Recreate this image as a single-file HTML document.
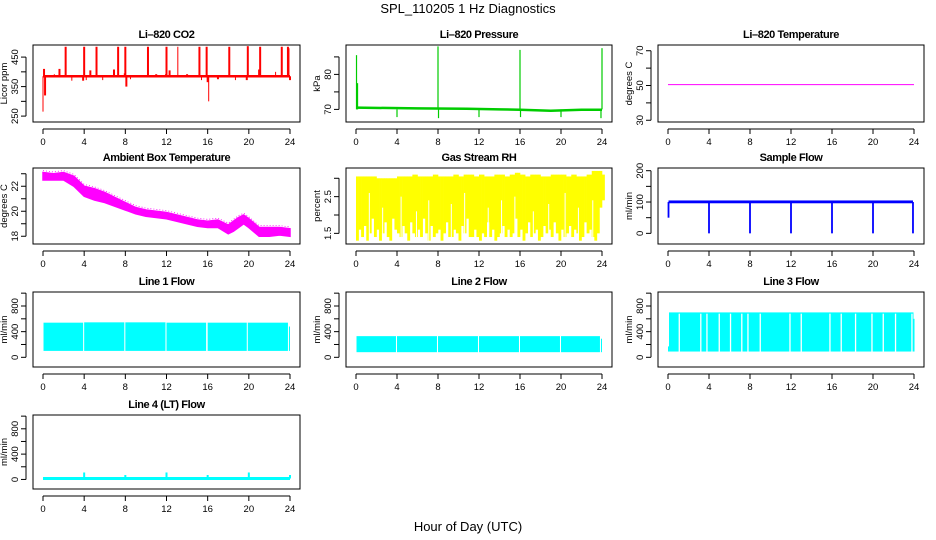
<!DOCTYPE html>
<html><head><meta charset="utf-8"><style>
html,body{margin:0;padding:0;background:#fff;}
svg{display:block;font-family:"Liberation Sans",sans-serif;}
.pt{font-size:11px;font-weight:bold;text-anchor:middle;letter-spacing:-0.4px}
.tk{font-size:9.5px;text-anchor:middle;}
.yl{font-size:9.5px;text-anchor:middle;}
</style></head><body>
<svg id="chart" width="936" height="540" viewBox="0 0 936 540" xmlns="http://www.w3.org/2000/svg">
<text x="468" y="13" font-size="13" text-anchor="middle">SPL_110205  1 Hz Diagnostics</text>
<text x="468" y="531" font-size="13" text-anchor="middle">Hour of Day (UTC)</text>
</svg>
<script>
const xTicks=[0,4,8,12,16,20,24];
// CO2
const co2Base=385;
const co2SpikeT=[0,0.1,0.2,1.1,1.6,2.2,2.8,3.9,4.0,4.2,4.6,5.2,5.8,6.9,7.3,7.9,8.0,8.1,8.5,10.2,11.0,11.9,12.0,12.3,13.1,14.0,15.2,15.4,15.9,16.0,16.1,17.0,18.1,18.7,19.8,19.9,20.2,21.0,21.1,22.6,23.2,23.8,23.9,24.0];
const co2SpikeV=[265,410,320,392,410,485,370,370,485,372,405,485,372,408,485,395,485,350,375,485,392,392,485,405,485,392,485,372,485,365,300,375,485,372,372,487,385,408,485,400,485,485,480,372];
// Pressure
const presT=[0,6,10.8,14,16,19,22,24];
const presV=[70.5,70.3,70.2,70.0,69.9,69.6,69.9,69.9];
const presSpikeT=[0.05,0.15,4.0,8.0,8.05,12.0,16.0,16.05,20.0,24.0,23.9];
const presSpikeV=[85.5,77.5,67.8,88,67.5,67.8,87,67.8,67.8,87.5,67.5];
// Li-820 temperature
const ltT=[0,24];
const ltV=[50.5,50.5];
// Ambient temp (hourly band)
const ambT=[0,1,2,3,4,5,6,7,8,9,10,11,12,13,14,15,16,17,18,18.5,19,19.5,20,21,22,23,24];
const ambHi=[23.1,23.0,23.1,22.8,22.0,21.8,21.5,21.1,20.7,20.3,20.1,20.0,19.9,19.7,19.5,19.3,19.2,19.3,18.9,19.2,19.5,19.7,19.4,18.7,18.7,18.7,18.6];
const ambLo=[22.5,22.5,22.5,22.0,21.2,20.9,20.7,20.4,20.1,19.8,19.6,19.5,19.4,19.2,19.0,18.8,18.7,18.7,18.2,18.4,18.7,19.0,18.7,18.0,18.0,18.1,18.0];
// RH: top per 0.5 h, lows per 0.25 h
const rhTop=[3.05,3.05,3.05,3.05,3.0,3.0,3.0,3.0,3.05,3.05,3.05,3.1,3.05,3.05,3.05,3.1,3.05,3.05,3.05,3.1,3.05,3.1,3.1,3.05,3.1,3.05,3.05,3.1,3.1,3.05,3.1,3.15,3.1,3.05,3.1,3.1,3.05,3.05,3.1,3.1,3.1,3.05,3.1,3.05,3.05,3.1,3.2,3.2,3.1];
const rhLow=[1.3,1.6,1.4,1.7,1.3,1.5,1.9,1.4,1.6,1.3,1.5,1.8,1.4,1.3,1.9,1.6,1.5,1.4,1.7,1.5,1.3,1.8,1.5,1.4,1.6,1.4,1.9,1.5,1.3,1.7,1.4,1.5,1.6,1.3,1.5,1.8,1.4,1.4,1.6,1.5,1.3,1.7,1.5,1.9,1.4,1.4,1.6,1.4,1.3,1.5,1.4,1.8,1.4,1.6,1.3,1.4,1.5,1.7,1.4,1.6,1.4,1.5,1.9,1.4,1.6,1.3,1.5,1.8,1.4,1.5,1.6,1.3,1.4,1.7,1.5,1.6,1.4,1.8,1.5,1.3,1.6,1.4,1.5,1.7,1.4,1.6,1.5,1.3,1.4,1.8,1.5,1.6,1.4,1.3,1.5,2.2,2.4];
const rhGapT=[1.3,2.6,4.4,5.9,7.1,9.3,10.6,12.9,14.2,15.5,17.3,18.8,20.4,21.7,23.1];
const rhGapV=[2.6,2.2,2.5,2.1,2.4,2.3,2.6,2.2,2.4,2.5,2.1,2.3,2.6,2.2,2.4];
// Sample flow
const sfT=[0.05,4,8,12,16,20,23.9];
const sfDip=[50,0,0,0,0,0,0];
const sfBase=100;
// Line flows: segments [start,end]
const l1Seg=[[0.05,3.9],[4.0,7.9],[8.0,11.9],[12.0,15.85],[16.0,19.8],[19.9,23.8],[23.9,24.0]];
const l1Top=[540,545,545,540,540,540,480];
const l1Bot=100;
const l2Seg=[[0.05,3.9],[4.0,7.9],[8.0,11.9],[12.0,15.9],[16.0,19.9],[20.0,23.8],[23.9,24.0]];
const l2Top=[330,330,330,330,330,330,290];
const l2Bot=80;
const l3Seg=[[0.0,0.1],[0.1,23.95],[23.95,24.05]];
const l3Top=[170,700,600];
const l3Bot=90;
const l3Gaps=[1.1,3.2,3.8,5.0,6.1,7.2,7.8,9.0,11.9,13.0,15.8,16.9,18.3,19.9,21.0,22.2,23.8];
const l4Base=15;
const l4SpikeT=[4,8,12,16,20,24];
const l4SpikeV=[110,70,110,70,110,70];

const NS="http://www.w3.org/2000/svg";
const svg=document.getElementById('chart');
const colL=[33,346,658],colR=[300,612,924];
const rowT=[45,168,292,415],rowB=[122,244,367,489];
function mk(tag,attrs,parent){const e=document.createElementNS(NS,tag);for(const k in attrs)e.setAttribute(k,attrs[k]);(parent||svg).appendChild(e);return e;}
function panel(c,r,o){
  const g=mk('g',{});
  
  
  const L=colL[c],R=colR[c],T=rowT[r],B=rowB[r];
  const X=v=>L+10+(R-L-20)*v/24;
  const Y=v=>B-(v-o.ymin)/(o.ymax-o.ymin)*(B-T);
  const box=mk('rect',{x:L,y:T,width:R-L,height:B-T,fill:'none',stroke:'#000','stroke-width':1},g);
  
  
  const t=mk('text',{x:(L+R)/2,y:T-7,class:'pt'},g);t.textContent=o.title;
  
  
  const xa=mk('g',{},g);
  
  
  mk('line',{x1:X(0),x2:X(24),y1:B+7,y2:B+7,stroke:'#000'},xa);
  xTicks.forEach(v=>{mk('line',{x1:X(v),x2:X(v),y1:B+7,y2:B+12,stroke:'#000'},xa);
    const tx=mk('text',{x:X(v),y:B+23,class:'tk'},xa);tx.textContent=v;});
  const ya=mk('g',{},g);
  
  
  const yt=o.yt;
  mk('line',{x1:L-7,x2:L-7,y1:Y(yt[0]),y2:Y(yt[yt.length-1]),stroke:'#000'},ya);
  yt.forEach(v=>mk('line',{x1:L-12,x2:L-7,y1:Y(v),y2:Y(v),stroke:'#000'},ya));
  o.yl.forEach(v=>{const tx=mk('text',{x:L-15,y:Y(v),class:'tk',transform:`rotate(-90 ${L-15} ${Y(v)})`},ya);tx.textContent=v;});
  const yl=mk('text',{x:L-26,y:(T+B)/2,class:'yl',transform:`rotate(-90 ${L-26} ${(T+B)/2})`},g);yl.textContent=o.ylab;
  
  
  const s=mk('g',{},g);
  
  
  o.draw(s,X,Y);
}
function vline(g,x,y1,y2,col,w){mk('line',{x1:x,x2:x,y1:y1,y2:y2,stroke:col,'stroke-width':w||1},g);}
function segs(g,X,Y,seg,top,bot,col){seg.forEach((sg,i)=>{const r=mk('rect',{x:X(sg[0]),y:Y(top[i]),width:Math.max(1,X(sg[1])-X(sg[0])),height:Y(bot)-Y(top[i]),fill:col},g);});}

panel(0,0,{name:'co2-panel',title:'Li–820 CO2',ylab:'Licor ppm',ymin:230,ymax:491,yt:[250,300,350,400,450],yl:[250,350,450],draw:(g,X,Y)=>{
  mk('line',{x1:X(0),x2:X(24),y1:Y(co2Base),y2:Y(co2Base),stroke:'red','stroke-width':2.5},g);
  co2SpikeT.forEach((t,i)=>vline(g,X(t),Y(co2Base),Y(co2SpikeV[i]),'red',i%3==0?1:2));}});
panel(1,0,{name:'pressure-panel',title:'Li–820 Pressure',ylab:'kPa',ymin:66.4,ymax:88.4,yt:[70,75,80,85],yl:[70,80],draw:(g,X,Y)=>{
  mk('polyline',{points:presT.map((t,i)=>X(t)+','+Y(presV[i])).join(' '),fill:'none',stroke:'#00cc00','stroke-width':2.5},g);
  presSpikeT.forEach((t,i)=>vline(g,X(t),Y(70),Y(presSpikeV[i]),'#00cc00',1.2));}});
panel(2,0,{name:'li820-temperature-panel',title:'Li–820 Temperature',ylab:'degrees C',ymin:29,ymax:73.3,yt:[30,40,50,60,70],yl:[30,50,70],draw:(g,X,Y)=>{
  mk('polyline',{points:ltT.map((t,i)=>X(t)+','+Y(ltV[i])).join(' '),fill:'none',stroke:'#ff00ff','stroke-width':1},g);}});
panel(0,1,{name:'ambient-temp-panel',title:'Ambient Box Temperature',ylab:'degrees C',ymin:17.38,ymax:23.46,yt:[18,19,20,21,22,23],yl:[18,20,22],draw:(g,X,Y)=>{
  const pts=ambT.map((t,i)=>X(t)+','+Y(ambHi[i])).concat(ambT.slice().reverse().map((t,j)=>X(t)+','+Y(ambLo[ambT.length-1-j])));
  mk('polygon',{points:pts.join(' '),fill:'#ff00ff',stroke:'#ff00ff','stroke-width':1.5},g);
  mk('polyline',{points:ambT.map((t,i)=>X(t)+','+Y(ambHi[i]+0.15)).join(' '),fill:'none',stroke:'#ff00ff','stroke-width':0.8,'stroke-dasharray':'1 2'},g);}});
panel(1,1,{name:'rh-panel',title:'Gas Stream RH',ylab:'percent',ymin:1.21,ymax:3.28,yt:[1.5,2,2.5,3],yl:[1.5,2.5],draw:(g,X,Y)=>{
  rhLow.forEach((lo,i)=>{const t=i*0.25;const top=rhTop[Math.min(rhTop.length-1,Math.floor(i/2))];
    mk('rect',{x:X(t),y:Y(top),width:X(0.25)-X(0)+0.3,height:Y(lo)-Y(top),fill:'#ffff00'},g);});
  rhGapT.forEach((t,i)=>vline(g,X(t),Y(rhGapV[i]),Y(1.25),'#fff',1));}});
panel(2,1,{name:'sample-flow-panel',title:'Sample Flow',ylab:'ml/min',ymin:-34,ymax:208.6,yt:[0,50,100,150,200],yl:[0,100,200],draw:(g,X,Y)=>{
  mk('rect',{x:X(0.05),y:Y(sfBase+5),width:X(23.9)-X(0.05),height:Y(sfBase-4)-Y(sfBase+5),fill:'#0000ff'},g);
  sfT.forEach((t,i)=>vline(g,X(t),Y(sfBase),Y(sfDip[i]),'#0000ff',1.8));}});
panel(0,2,{name:'line1-flow-panel',title:'Line 1 Flow',ylab:'ml/min',ymin:-151,ymax:1018,yt:[0,200,400,600,800,1000],yl:[0,400,800],draw:(g,X,Y)=>segs(g,X,Y,l1Seg,l1Top,l1Bot,'#00ffff')});
panel(1,2,{name:'line2-flow-panel',title:'Line 2 Flow',ylab:'ml/min',ymin:-151,ymax:1018,yt:[0,200,400,600,800,1000],yl:[0,400,800],draw:(g,X,Y)=>segs(g,X,Y,l2Seg,l2Top,l2Bot,'#00ffff')});
panel(2,2,{name:'line3-flow-panel',title:'Line 3 Flow',ylab:'ml/min',ymin:-151,ymax:1018,yt:[0,200,400,600,800,1000],yl:[0,400,800],draw:(g,X,Y)=>{segs(g,X,Y,l3Seg,l3Top,l3Bot,'#00ffff');
  l3Gaps.forEach(t=>vline(g,X(t),Y(680),Y(l3Bot)+2,'#fff',1.3));}});
panel(0,3,{name:'line4-flow-panel',title:'Line 4 (LT) Flow',ylab:'ml/min',ymin:-151,ymax:1018,yt:[0,200,400,600,800,1000],yl:[0,400,800],draw:(g,X,Y)=>{
  mk('line',{x1:X(0),x2:X(24),y1:Y(l4Base),y2:Y(l4Base),stroke:'#00ffff','stroke-width':3},g);
  l4SpikeT.forEach((t,i)=>vline(g,X(t),Y(l4Base),Y(l4SpikeV[i]),'#00ffff',2));}});
</script>
</body></html>
